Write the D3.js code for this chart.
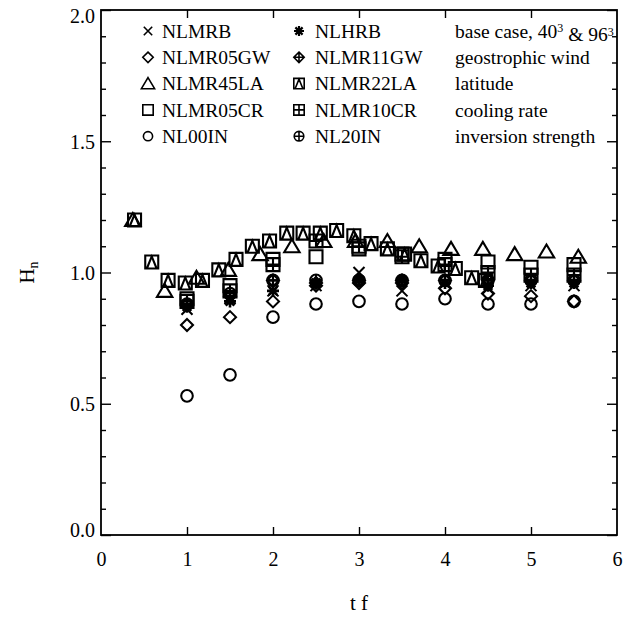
<!DOCTYPE html>
<html>
<head>
<meta charset="utf-8">
<script src="https://cdn.jsdelivr.net/npm/d3@7"></script>
<style>
  body { margin: 0; background: #fff; }
</style>
</head>
<body>
<div class="viz"></div>
<script>
// output times (tf)
const tBase = [1, 1.5, 2, 2.5, 3, 3.5, 4, 4.5, 5, 5.5];
const tLA45 = [0.37, 0.74, 1.11, 1.48, 1.85, 2.22, 2.59, 2.96, 3.33, 3.70, 4.07, 4.44, 4.81, 5.18, 5.55];
const tLA22 = [0.39, 0.59, 0.78, 0.98, 1.18, 1.37, 1.57, 1.76, 1.96, 2.16, 2.35, 2.55, 2.74, 2.94, 3.14, 3.33, 3.53, 3.72, 3.92, 4.12, 4.31, 4.47];

// H_n values
const hNLMRB    = [0.86, 0.90, 0.93, 0.95, 1.00, 0.93, 0.96, 0.94, 0.95, 0.95];
const hNLHRB    = [0.87, 0.89, 0.93, 0.96, 0.97, 0.97, 0.96, 0.95, 0.96, 0.96];
const hNLMR05GW = [0.80, 0.83, 0.89, 0.95, 0.96, 0.96, 0.94, 0.92, 0.91, 0.89];
const hNLMR11GW = [0.88, 0.91, 0.97, 0.96, 0.97, 0.97, 0.97, 0.97, 0.97, 0.97];
const hNLMR45LA = [1.20, 0.93, 0.98, 1.01, 1.07, 1.10, 1.12, 1.12, 1.12, 1.10, 1.09, 1.09, 1.07, 1.08, 1.06];
const hNLMR22LA = [1.20, 1.04, 0.97, 0.96, 0.97, 1.01, 1.05, 1.10, 1.12, 1.15, 1.15, 1.15, 1.16, 1.14, 1.11, 1.09, 1.07, 1.045, 1.025, 1.015, 0.98, 0.97];
const hNLMR05CR = [0.90, 0.95, 1.05, 1.06, 1.09, 1.07, 1.05, 1.04, 1.02, 1.03];
const hNLMR10CR = [0.89, 0.93, 1.03, 1.12, 1.10, 1.06, 1.03, 1.00, 0.99, 0.99];
const hNL00IN   = [0.53, 0.61, 0.83, 0.88, 0.89, 0.88, 0.90, 0.88, 0.88, 0.89];
const hNL20IN   = [0.88, 0.92, 0.97, 0.97, 0.97, 0.97, 0.97, 0.97, 0.97, 0.97];

const xTicks = [0, 1, 2, 3, 4, 5, 6];

const legendCol1 = ["NLMRB", "NLMR05GW", "NLMR45LA", "NLMR05CR", "NL00IN"];
const legendCol2 = ["NLHRB", "NLMR11GW", "NLMR22LA", "NLMR10CR", "NL20IN"];
const legendCol3 = ["base case", "geostrophic wind", "latitude", "cooling rate", "inversion strength"];

const FONT = "Liberation Serif";

// symbol paths, r = half size
const symbolPaths = {
  cross: (r) => `M${-r},${-r}L${r},${r}M${-r},${r}L${r},${-r}`,
  star: (r) => {
    const a = r * 0.72;
    return `M0,${-r}L0,${r}M${-r},0L${r},0M${-a},${-a}L${a},${a}M${-a},${a}L${a},${-a}`;
  },
  diamond: (r) => `M0,${-r}L${r},0L0,${r}L${-r},0Z`,
  diamondPlus: (r) => `M0,${-r}L${r},0L0,${r}L${-r},0ZM0,${-r}L0,${r}M${-r},0L${r},0`,
  triangle: (r) => `M0,${-r}L${r * 1.1},${r * 0.85}L${-r * 1.1},${r * 0.85}Z`,
  squareTri: (r) => `M${-r},${-r}H${r}V${r}H${-r}ZM${-r * 0.75},${r}L0,${-r * 0.85}L${r * 0.75},${r}`,
  square: (r) => `M${-r},${-r}H${r}V${r}H${-r}Z`,
  squarePlus: (r) => `M${-r},${-r}H${r}V${r}H${-r}ZM0,${-r}V${r}M${-r},0H${r}`,
  circle: (r) => `M${r},0A${r},${r},0,1,1,${-r},0A${r},${r},0,1,1,${r},0Z`,
  circlePlus: (r) => `M${r},0A${r},${r},0,1,1,${-r},0A${r},${r},0,1,1,${r},0ZM0,${-r}V${r}M${-r},0H${r}`,
};
const dataSize = { triangle: 7, circle: 5.8, circlePlus: 5.8, diamond: 6, diamondPlus: 6, cross: 5.5, star: 6 };
const legendSize = { triangle: 6, cross: 4.2, star: 5, circle: 4.6, circlePlus: 4.8 };

const series = [
  { name: "NLMRB", sym: "cross", t: tBase, h: hNLMRB },
  { name: "NLHRB", sym: "star", t: tBase, h: hNLHRB },
  { name: "NLMR05GW", sym: "diamond", t: tBase, h: hNLMR05GW },
  { name: "NLMR11GW", sym: "diamondPlus", t: tBase, h: hNLMR11GW },
  { name: "NLMR45LA", sym: "triangle", t: tLA45, h: hNLMR45LA },
  { name: "NLMR22LA", sym: "squareTri", t: tLA22, h: hNLMR22LA },
  { name: "NLMR05CR", sym: "square", t: tBase, h: hNLMR05CR },
  { name: "NLMR10CR", sym: "squarePlus", t: tBase, h: hNLMR10CR },
  { name: "NL00IN", sym: "circle", t: tBase, h: hNL00IN },
  { name: "NL20IN", sym: "circlePlus", t: tBase, h: hNL20IN },
];
const symOf = Object.fromEntries(series.map((s) => [s.name, s.sym]));

const totalWidth = 634;
const totalHeight = 617;
const margin = { top: 10, right: 17, bottom: 82, left: 101 };
const width = totalWidth - margin.left - margin.right;
const height = totalHeight - margin.top - margin.bottom;

const svg = d3
  .select(".viz")
  .append("svg")
  .attr("width", totalWidth)
  .attr("height", totalHeight)
  .attr("font-family", FONT);

const g = svg
  .append("g")
  .attr("transform", `translate(${margin.left},${margin.top})`);

const xScale = d3.scaleLinear().domain([0, 6]).range([0, width]);
const yScale = d3.scaleLinear().domain([0, 2]).range([height, 0]);

// Axes (ticks pointing inward)
const yMinor = d3.range(0, 21).map((i) => i / 10);
const isMajor = (v) => Math.abs(v * 2 - Math.round(v * 2)) < 1e-6;

function styleAxis(sel) {
  sel.attr("font-family", FONT).attr("font-size", 20);
  sel.select(".domain").remove();
  sel.selectAll("line").attr("stroke", "#000").attr("stroke-width", 1.4);
  sel.selectAll("text").attr("fill", "#000");
}

g.append("g")
  .attr("transform", `translate(0,${height})`)
  .call(d3.axisBottom(xScale).tickValues(xTicks).tickSize(-8).tickPadding(17).tickFormat(d3.format("d")))
  .call(styleAxis)
  .call((a) => a.selectAll(".tick").filter((d) => d === 0 || d === 6).select("line").remove());

g.append("g")
  .call(d3.axisTop(xScale).tickValues(xTicks.slice(1, -1)).tickSize(-8).tickFormat(""))
  .call(styleAxis);

const leftAxis = g.append("g")
  .call(d3.axisLeft(yScale).tickValues(yMinor).tickSize(0).tickPadding(6)
    .tickFormat((d) => (isMajor(d) ? d3.format(".1f")(d) : "")))
  .call(styleAxis);
leftAxis.selectAll(".tick line")
  .attr("x2", (d) => (isMajor(d) ? 10 : 5));
leftAxis.selectAll(".tick text")
  .attr("dy", (d) => (d === 2 ? "0.6em" : d === 0 ? "0.05em" : "0.35em"));

const rightAxis = g.append("g")
  .attr("transform", `translate(${width},0)`)
  .call(d3.axisRight(yScale).tickValues(yMinor).tickSize(0).tickFormat(""))
  .call(styleAxis);
rightAxis.selectAll(".tick line")
  .attr("x2", (d) => (isMajor(d) ? -10 : -5));

// Frame
g.append("rect")
  .attr("x", 0)
  .attr("y", 0)
  .attr("width", width)
  .attr("height", height)
  .attr("fill", "none")
  .attr("stroke", "#000")
  .attr("stroke-width", 1.8);

// Data points
series.forEach((s) => {
  g.append("g")
    .selectAll("path")
    .data(s.t.map((t, i) => ({ t, h: s.h[i] })))
    .enter()
    .append("path")
    .attr("transform", (d) => `translate(${xScale(d.t)},${yScale(d.h)})`)
    .attr("d", symbolPaths[s.sym](dataSize[s.sym] || 6.5))
    .attr("fill", "none")
    .attr("stroke", "#000")
    .attr("stroke-width", s.sym === "star" ? 2.6 : 2.1);
});

// Legend
const rowY = (i) => 31 + i * 26.3;

function legendColumn(names, symX, textX) {
  const items = svg.append("g")
    .selectAll("g")
    .data(names)
    .enter()
    .append("g")
    .attr("transform", (d, i) => `translate(0,${rowY(i)})`);
  items.append("path")
    .attr("transform", `translate(${symX},0)`)
    .attr("d", (d) => symbolPaths[symOf[d]](legendSize[symOf[d]] || 5.2))
    .attr("fill", "none")
    .attr("stroke", "#000")
    .attr("stroke-width", (d) => (symOf[d] === "star" ? 2.2 : 1.6));
  items.append("text")
    .attr("x", textX)
    .attr("y", 0)
    .attr("dy", "0.35em")
    .attr("font-family", FONT)
    .attr("font-size", 19.5)
    .text((d) => d);
}
legendColumn(legendCol1, 148, 162);
legendColumn(legendCol2, 299, 315);

const col3 = svg.append("g")
  .selectAll("text")
  .data(legendCol3)
  .enter()
  .append("text")
  .attr("x", 455)
  .attr("y", (d, i) => rowY(i))
  .attr("dy", "0.35em")
  .attr("font-family", FONT)
  .attr("font-size", 19.5);
col3.each(function (d, i) {
  const t = d3.select(this);
  if (i === 0) {
    t.append("tspan").text("base case, 40");
    t.append("tspan").attr("dy", "-0.45em").attr("font-size", 12).text("3");
    t.append("tspan").attr("dy", "0.45em").text(" & 96");
    t.append("tspan").attr("dy", "-0.45em").attr("font-size", 12).text("3");
  } else {
    t.text(d);
  }
});

// Axis titles
svg.append("text")
  .attr("x", margin.left + xScale(3))
  .attr("y", 610)
  .attr("text-anchor", "middle")
  .attr("font-family", FONT)
  .attr("font-size", 21)
  .text("t f");

const yTitle = svg.append("text")
  .attr("transform", `translate(34,${margin.top + yScale(1)}) rotate(-90)`)
  .attr("text-anchor", "middle")
  .attr("font-family", FONT)
  .attr("font-size", 21);
yTitle.append("tspan").text("H");
yTitle.append("tspan").attr("dy", "0.3em").attr("font-size", 14).text("n");
</script>
</body>
</html>
